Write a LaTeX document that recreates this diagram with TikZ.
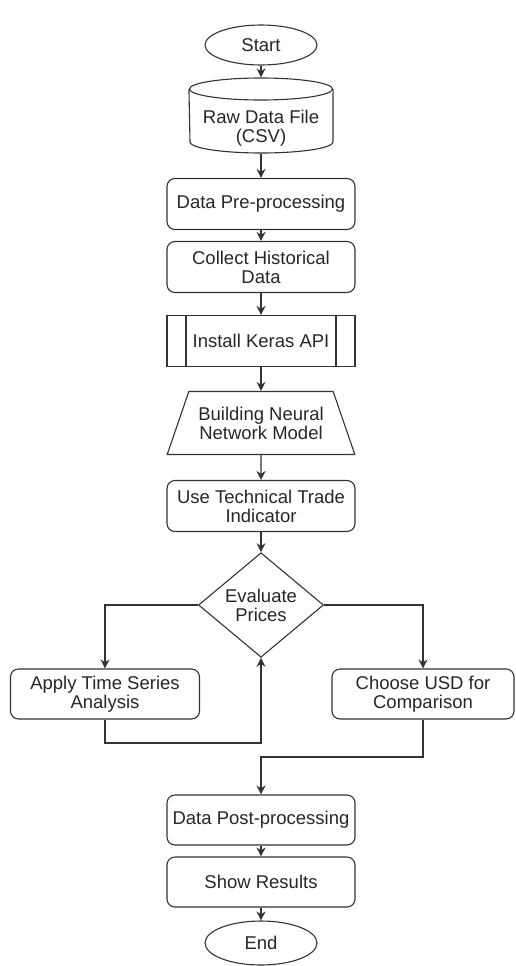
\documentclass[tikz,border=0pt]{standalone}
\usepackage{fontspec}
\setmainfont{Liberation Sans}
\usetikzlibrary{shapes.geometric,arrows.meta}

\begin{document}
\begin{tikzpicture}[x=1pt,y=-1pt,color=black!80,line width=1.1pt,
    font=\fontsize{18.5}{19}\selectfont,
    every node/.style={draw,align=center,inner sep=0pt,text=black!85},
    arr/.style={-{Stealth[length=9pt,width=9pt]}},
    term/.style={ellipse,minimum width=112pt,minimum height=40pt},
    proc/.style={rectangle,rounded corners=8pt,minimum width=188pt,minimum height=51pt},
    subproc/.style={rectangle,minimum width=188pt,minimum height=51pt,
        path picture={
            \draw ([xshift=19pt]path picture bounding box.north west) -- ([xshift=19pt]path picture bounding box.south west);
            \draw ([xshift=-19pt]path picture bounding box.north east) -- ([xshift=-19pt]path picture bounding box.south east);}},
    model/.style={trapezium,trapezium stretches=true,trapezium angle=60,minimum width=188pt,minimum height=63pt},
    choice/.style={diamond,minimum width=125pt,minimum height=96pt}]
    \useasboundingbox (0,0) rectangle (515,966);
    % main column
    \node [term] (start) at (261,45) {Start};
    % data store drawn as a cylinder
    \node [ellipse,minimum width=143pt,minimum height=22pt] (rawtop) at (261,89) {};
    \node [draw=none,minimum width=143pt,minimum height=50pt] (raw) at (261,128) {Raw Data File\\(CSV)};
    \draw (rawtop.west) -- (190,142) arc[start angle=180,end angle=360,x radius=71.5pt,y radius=11pt] -- (rawtop.east);
    \node [proc] (pre) at (261,204) {Data Pre-processing};
    \node [proc] (hist) at (261,267) {Collect Historical\\Data};
    \node [subproc] (keras) at (261,341) {Install Keras API};
    \node [model] (nn) at (261,423) {Building Neural\\Network Model};
    \node [proc] (tech) at (261,506) {Use Technical Trade\\Indicator};
    \node [choice] (eval) at (261,605) {Evaluate\\Prices};
    % branches
    \node [proc,minimum width=189pt,minimum height=50pt] (tsa) at (105,694) {Apply Time Series\\Analysis};
    \node [proc,minimum width=182pt,minimum height=50pt] (usd) at (423,694) {Choose USD for\\Comparison};
    \coordinate (back) at (261,743);
    \coordinate (join) at (261,757);
    \node [proc,minimum height=50pt] (post) at (261,820) {Data Post-processing};
    \node [proc,minimum height=50pt] (show) at (261,882) {Show Results};
    \node [term,minimum height=44pt] (stop) at (261,943) {End};
    % connectors
    \draw [arr] (start) -- (rawtop);
    \draw [arr] (raw) -- (pre);
    \draw [arr] (pre) -- (hist);
    \draw [arr] (hist) -- (keras);
    \draw [arr] (keras) -- (nn);
    \draw [arr] (nn) -- (tech);
    \draw [arr] (tech) -- (eval);
    \draw [arr] (eval.west) -| (tsa.north);
    \draw [arr] (eval.east) -| (usd.north);
    \draw [arr] (tsa.south) |- (back) -- (eval.south);
    \draw [arr] (usd.south) |- (join) -- (post.north);
    \draw [arr] (post) -- (show);
    \draw [arr] (show) -- (stop);
\end{tikzpicture}
\end{document}
